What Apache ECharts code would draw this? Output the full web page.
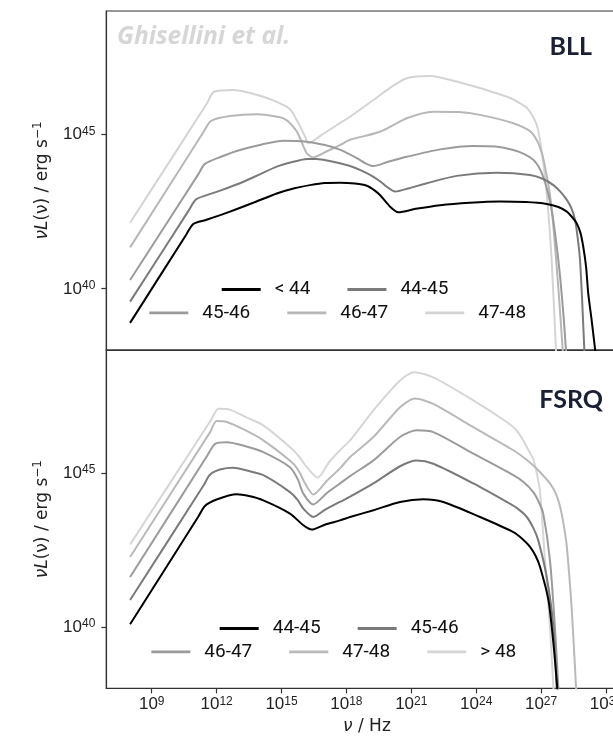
<!DOCTYPE html>
<html>
<head>
<meta charset="utf-8">
<script src="https://cdn.jsdelivr.net/npm/echarts@6/dist/echarts.min.js"></script>
<style>html,body{margin:0;padding:0;background:#fff}#c{width:613px;height:738px}</style>
</head>
<body>
<div id="c"></div>
<script>
// log10(nu / Hz), log10(nu L / erg s^-1)
const bll_lt44 = [[8.0,38.88],[10.6,41.75],[10.92,42.09],[11.5,42.22],[12.62,42.49],[13.7,42.78],[14.78,43.08],[15.6,43.25],[16.32,43.35],[17.0,43.42],[17.71,43.43],[18.4,43.40],[18.94,43.33],[19.3,43.18],[19.55,43.03],[20.02,42.65],[20.40,42.47],[21.2,42.58],[22.33,42.70],[23.7,42.78],[25.1,42.82],[26.3,42.80],[27.26,42.74],[27.8,42.64],[28.19,42.49],[28.45,42.30],[28.65,42.11],[28.82,41.8],[28.95,41.35],[29.08,40.7],[29.18,39.84],[29.35,38.9],[29.5,38.0],[29.6,37.4]];
const bll_4445 = [[8.0,39.57],[10.75,42.57],[11.05,42.89],[12.0,43.13],[13.08,43.41],[14.0,43.7],[14.78,43.95],[15.5,44.10],[16.17,44.20],[16.6,44.20],[16.93,44.17],[17.7,44.06],[18.17,43.97],[18.7,43.82],[19.25,43.62],[19.6,43.45],[19.86,43.3],[20.25,43.14],[20.9,43.25],[21.71,43.41],[23.1,43.65],[24.95,43.75],[26.49,43.68],[27.1,43.55],[27.57,43.35],[27.9,43.13],[28.19,42.87],[28.4,42.6],[28.57,42.22],[28.7,41.6],[28.8,40.92],[28.9,39.6],[29.0,38.0],[29.05,37.4]];
const bll_4546 = [[8.0,40.27],[11.15,43.7],[11.46,44.04],[12.2,44.27],[13.08,44.49],[14.1,44.67],[15.09,44.79],[16.17,44.76],[17.0,44.65],[17.7,44.5],[18.5,44.22],[18.9,44.05],[19.25,43.97],[19.9,44.10],[20.79,44.27],[22.33,44.51],[23.87,44.62],[24.9,44.6],[25.72,44.49],[26.25,44.35],[26.64,44.17],[26.9,43.93],[27.1,43.62],[27.3,43.15],[27.49,42.54],[27.7,41.5],[27.88,40.38],[28.05,39.0],[28.15,38.0],[28.2,37.4]];
const bll_4647 = [[8.0,41.33],[11.4,45.08],[11.73,45.43],[12.62,45.59],[13.85,45.65],[14.93,45.55],[15.25,45.45],[15.47,45.3],[15.7,45.1],[15.86,44.87],[16.05,44.55],[16.17,44.38],[16.47,44.25],[17.1,44.45],[17.7,44.65],[18.17,44.82],[19.55,45.08],[20.79,45.52],[22.02,45.73],[23.2,45.72],[24.18,45.63],[25.72,45.36],[26.41,45.14],[26.65,44.98],[26.87,44.71],[27.05,44.35],[27.18,43.95],[27.4,43.1],[27.57,42.0],[27.8,40.0],[28.0,38.0],[28.05,37.4]];
const bll_4748 = [[8.0,42.13],[11.55,46.0],[11.88,46.38],[12.77,46.44],[14.16,46.22],[15.24,45.9],[15.5,45.72],[15.70,45.46],[15.9,45.2],[16.09,44.92],[16.24,44.71],[16.9,45.0],[17.7,45.36],[18.17,45.57],[19.25,46.11],[20.0,46.5],[20.79,46.82],[21.87,46.89],[23.1,46.71],[24.95,46.33],[25.6,46.17],[26.03,46.0],[26.35,45.85],[26.57,45.63],[26.8,45.3],[26.95,44.81],[27.1,44.1],[27.26,43.08],[27.49,40.92],[27.69,38.0],[27.75,37.4]];

const fsrq_4445 = [[8.0,40.08],[11.15,43.58],[11.46,43.93],[12.0,44.14],[12.93,44.31],[13.5,44.25],[14.16,44.11],[15.39,43.68],[16.01,43.30],[16.40,43.16],[17.0,43.32],[17.7,43.46],[18.17,43.57],[19.25,43.79],[20.48,44.06],[21.56,44.15],[22.48,44.06],[24.18,43.57],[25.72,43.08],[26.15,42.85],[26.49,42.6],[26.75,42.3],[26.95,41.95],[27.34,40.87],[27.57,39.46],[27.75,38.0],[27.8,37.4]];
const fsrq_4546 = [[8.0,40.87],[11.4,44.6],[11.7,44.95],[12.2,45.12],[12.77,45.17],[13.4,45.08],[14.16,44.93],[15.39,44.38],[15.75,44.12],[16.01,43.84],[16.47,43.57],[17.0,43.8],[17.7,44.06],[18.17,44.23],[19.25,44.66],[20.48,45.22],[21.25,45.41],[22.02,45.3],[23.87,44.66],[25.41,44.06],[25.9,43.85],[26.34,43.57],[26.65,43.2],[26.87,42.81],[27.26,41.62],[27.57,40.0],[27.72,38.0],[27.77,37.4]];
const fsrq_4647 = [[8.0,41.62],[11.6,45.6],[11.93,45.95],[12.47,46.0],[13.3,45.88],[14.16,45.68],[15.39,45.19],[15.75,44.8],[16.01,44.33],[16.47,43.98],[17.1,44.35],[17.7,44.66],[18.17,44.9],[19.25,45.41],[20.48,46.17],[21.25,46.39],[22.02,46.33],[23.87,45.63],[25.72,44.93],[26.2,44.7],[26.64,44.38],[26.9,44.05],[27.1,43.68],[27.41,42.17],[27.64,40.0],[27.8,38.0],[27.85,37.4]];
const fsrq_4748 = [[8.0,42.27],[11.7,46.33],[12.0,46.69],[12.47,46.66],[13.3,46.4],[14.16,46.06],[15.55,45.3],[15.85,45.0],[16.09,44.66],[16.47,44.30],[17.1,44.75],[17.7,45.15],[18.17,45.52],[19.25,46.17],[20.48,47.14],[21.17,47.42],[22.02,47.25],[23.87,46.49],[25.72,45.74],[26.3,45.45],[26.80,45.14],[27.41,44.66],[27.7,44.3],[27.88,43.9],[28.05,43.3],[28.19,42.6],[28.42,40.54],[28.62,38.0],[28.68,37.4]];
const fsrq_gt48 = [[8.0,42.68],[11.75,46.73],[12.08,47.09],[12.62,47.06],[13.4,46.8],[14.16,46.55],[15.55,45.74],[15.9,45.45],[16.17,45.19],[16.67,44.85],[17.2,45.35],[17.7,45.74],[18.17,46.06],[19.25,47.04],[20.48,48.01],[21.13,48.28],[22.02,48.11],[23.87,47.36],[25.41,46.66],[25.85,46.4],[26.18,46.06],[26.45,45.7],[26.64,45.45],[26.8,45.0],[26.95,44.4],[27.18,42.17],[27.41,40.0],[27.57,38.0],[27.62,37.4]];

const bllNames = ['< 44','44-45','45-46','46-47','47-48'];
const fsrqNames = ['44-45','45-46','46-47','47-48','> 48'];
const bllData = [bll_lt44, bll_4445, bll_4546, bll_4647, bll_4748];
const fsrqData = [fsrq_4445, fsrq_4546, fsrq_4647, fsrq_4748, fsrq_gt48];
const bllColors = ['#000000','#7a7a7a','#9b9b9b','#b7b7b7','#d4d4d4'];
const fsrqColors = ['#000000','#7a7a7a','#9b9b9b','#b9b9b9','#d6d6d6'];
const xTicks = [9,12,15,18,21,24,27,30];
const yTicks = [40,45];

const TF = 'Liberation Sans';
const NF = 'DejaVu Sans';
const LF = 'Roboto';
const chart = echarts.init(document.getElementById('c'), null, {renderer:'canvas'});

const tickLabel = {
  margin: 9,
  formatter: v => '{b|10}{s|' + v + '}',
  rich: {
    b: {fontSize:17, fontFamily:TF, color:'#222', verticalAlign:'bottom'},
    s: {fontSize:12, fontFamily:TF, color:'#222', verticalAlign:'bottom', padding:[0,0,6,0]}
  }
};
function xAxis(idx, show) {
  return {
    type:'value', gridIndex: idx, min:6.9, max:31,
    axisLine:{show:true, lineStyle:{color:'#333', width:1.2}},
    axisTick:{show:show, customValues:xTicks, length:5, lineStyle:{color:'#333', width:1.2}},
    axisLabel:Object.assign({}, tickLabel, {show:show, customValues:xTicks, margin:7}),
    splitLine:{show:false},
    name: show ? '{i|ν} / Hz' : '', nameLocation:'middle', nameGap:30,
    nameTextStyle:{fontSize:17, fontFamily:NF, color:'#222', rich:{i:{fontSize:17, fontFamily:NF, fontStyle:'italic', color:'#222'}}}
  };
}
function yAxis(idx) {
  return {
    type:'value', gridIndex: idx, min:38, max:49,
    axisLine:{show:true, lineStyle:{color:'#333', width:1.2}},
    axisTick:{show:true, customValues:yTicks, length:5, lineStyle:{color:'#333', width:1.2}},
    axisLabel:Object.assign({}, tickLabel, {customValues:yTicks, margin:11}),
    splitLine:{show:false},
    name:'{i|νL}(ν) / erg s{s|−1}', nameLocation:'middle', nameGap:54,
    nameTextStyle:{fontSize:17, fontFamily:NF, color:'#222',
      rich:{i:{fontSize:17, fontFamily:NF, fontStyle:'italic', color:'#222'},
            s:{fontSize:12, fontFamily:NF, color:'#222', verticalAlign:'bottom', padding:[0,0,8,0]}}}
  };
}
function mkLegend(names, left, top) {
  return {
    data:names, left:left, top:top, orient:'horizontal', padding:0,
    itemWidth:39, itemHeight:2.8, itemGap:37, icon:'rect', selectedMode:false,
    formatter: n => n.slice(n.indexOf(' ') + 1),
    textStyle:{fontFamily:LF, fontSize:19, color:'#111', padding:[0,0,0,9]}
  };
}
const series = [];
bllData.forEach((d, i) => series.push({
  type:'line', name:'BLL ' + bllNames[i], xAxisIndex:0, yAxisIndex:0, data:d,
  symbol:'none', showSymbol:false, smooth:0.25, color:bllColors[i],
  lineStyle:{width:2, color:bllColors[i]}, itemStyle:{color:bllColors[i]}, z: 10 - i
}));
fsrqData.forEach((d, i) => series.push({
  type:'line', name:'FSRQ ' + fsrqNames[i], xAxisIndex:1, yAxisIndex:1, data:d,
  symbol:'none', showSymbol:false, smooth:0.25, color:fsrqColors[i],
  lineStyle:{width:2, color:fsrqColors[i]}, itemStyle:{color:fsrqColors[i]}, z: 10 - i
}));
const bn = bllNames.map(n => 'BLL ' + n), fn = fsrqNames.map(n => 'FSRQ ' + n);

chart.setOption({
  animation:false,
  backgroundColor:'#fff',
  grid:[
    {left:106.3, top:11, width:521.3, height:339, show:true, borderColor:'#333', borderWidth:1.2, containLabel:false, outerBoundsMode:'none'},
    {left:106.3, top:350, width:521.3, height:338.3, show:true, borderColor:'#333', borderWidth:1.2, containLabel:false, outerBoundsMode:'none'}
  ],
  xAxis:[xAxis(0,false), xAxis(1,true)],
  yAxis:[yAxis(0), yAxis(1)],
  legend:[
    mkLegend(bn.slice(0,2), 221.7, 280),
    mkLegend(bn.slice(2), 149.3, 303.3),
    mkLegend(fn.slice(0,2), 219.7, 619),
    mkLegend(fn.slice(2), 151.3, 642.4)
  ],
  graphic:[
    {type:'text', x:117, y:37, silent:true, style:{text:'Ghisellini et al.', fontFamily:'Open Sans', fontSize:24.5, fontWeight:'bold', fontStyle:'italic', fill:'#d6d6d6', align:'left', verticalAlign:'middle'}},
    {type:'text', x:592, y:47, silent:true, style:{text:'BLL', fontFamily:'Lato', fontSize:25, fontWeight:'bold', fill:'#1b1f33', align:'right', verticalAlign:'middle'}},
    {type:'text', x:603, y:400, silent:true, style:{text:'FSRQ', fontFamily:'Lato', fontSize:25, fontWeight:'bold', fill:'#1b1f33', align:'right', verticalAlign:'middle'}}
  ],
  series:series
});
</script>
</body>
</html>
